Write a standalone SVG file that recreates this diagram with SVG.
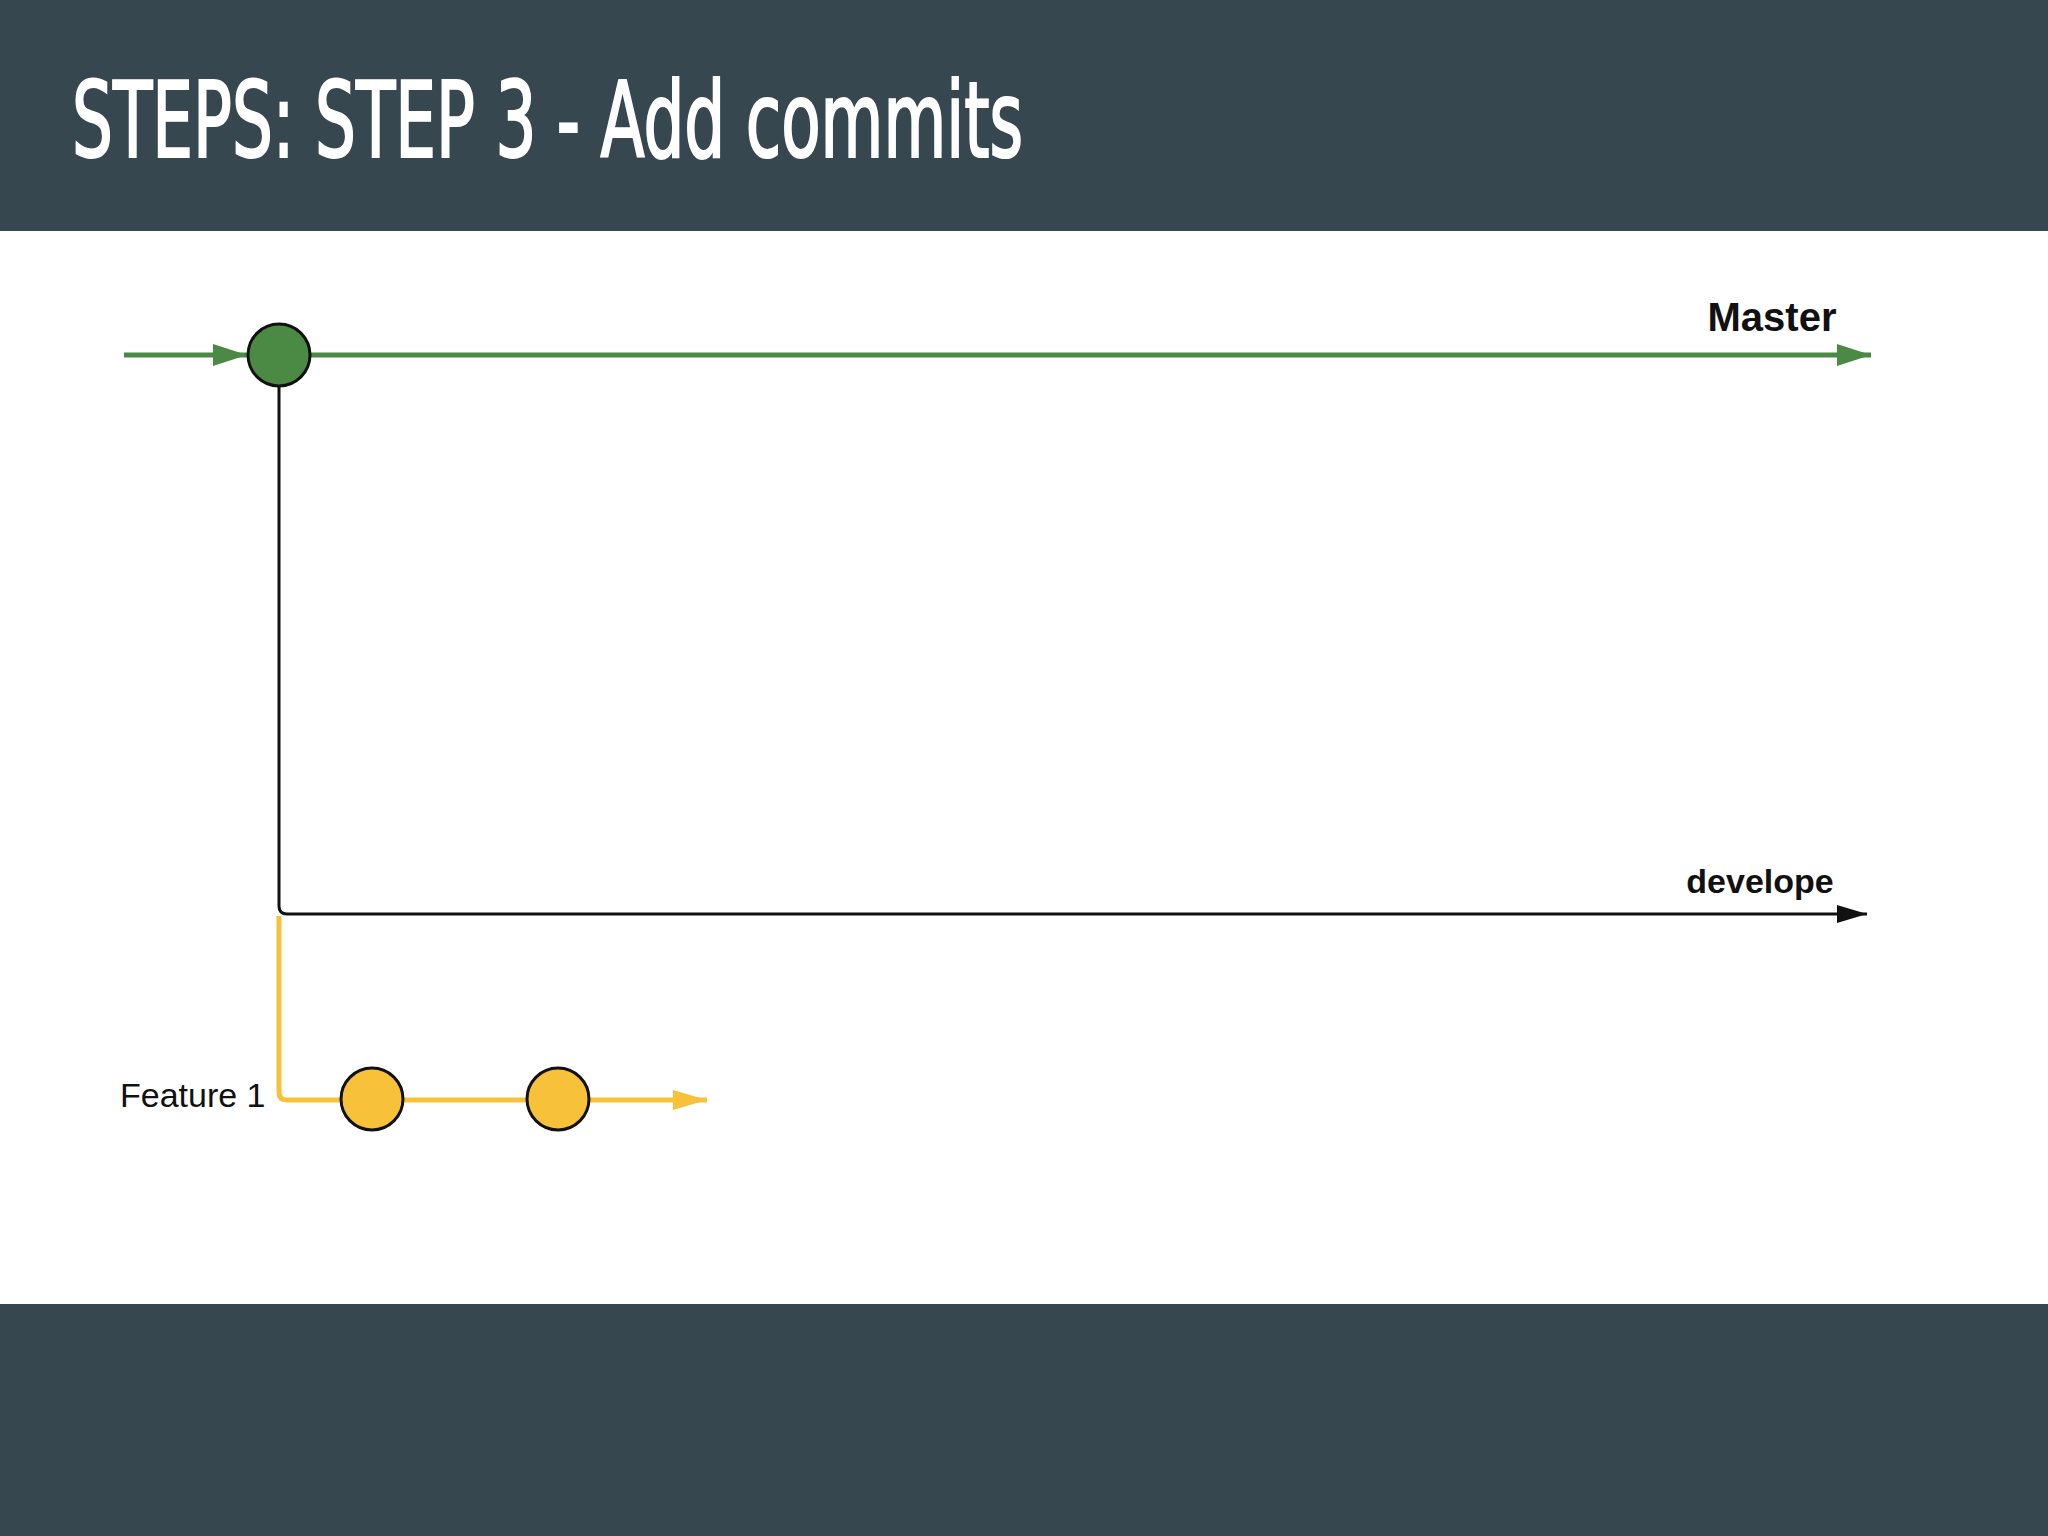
<svg xmlns="http://www.w3.org/2000/svg" width="2048" height="1536" viewBox="0 0 2048 1536">
  <style>
    .band { fill: #37474f; }
    .title { font-family: "Liberation Sans Narrow", "DejaVu Sans Condensed", "Liberation Sans", sans-serif; font-size: 106px; fill: #ffffff; stroke: #ffffff; stroke-width: 2.2; }
    .lbl { font-family: "Liberation Sans", Arial, sans-serif; fill: #111111; }
    .bold { font-weight: bold; }
    .green { stroke: #4a8a45; stroke-width: 5; fill: none; }
    .black { stroke: #111111; stroke-width: 3; fill: none; }
    .yellow { stroke: #f7c13a; stroke-width: 5; fill: none; }
    .commit { stroke: #111111; stroke-width: 3; }
  </style>
  <defs>
    <marker id="arrG" viewBox="0 0 34 22" refX="34" refY="11" markerWidth="34" markerHeight="22" markerUnits="userSpaceOnUse" orient="auto">
      <path d="M0,0 L34,11 L0,22 Z" fill="#4a8a45"/>
    </marker>
    <marker id="arrK" viewBox="0 0 30 18" refX="30" refY="9" markerWidth="30" markerHeight="18" markerUnits="userSpaceOnUse" orient="auto">
      <path d="M0,0 L30,9 L0,18 Z" fill="#111111"/>
    </marker>
    <marker id="arrY" viewBox="0 0 34 20" refX="34" refY="10" markerWidth="34" markerHeight="20" markerUnits="userSpaceOnUse" orient="auto">
      <path d="M0,0 L34,10 L0,20 Z" fill="#f7c13a"/>
    </marker>
  </defs>

  <rect width="2048" height="1536" fill="#ffffff"/>
  <rect class="band" x="0" y="0" width="2048" height="231"/>
  <rect class="band" x="0" y="1304" width="2048" height="232"/>
  <text class="title" x="72" y="157" textLength="951" lengthAdjust="spacingAndGlyphs">STEPS: STEP 3 - Add commits</text>

  <g id="connectors">
    <line class="green" x1="124" y1="355" x2="247" y2="355" marker-end="url(#arrG)"/>
    <line class="green" x1="311" y1="355" x2="1871" y2="355" marker-end="url(#arrG)"/>
    <path class="black" d="M279,386 L279,906 Q279,914 287,914 L1867,914" marker-end="url(#arrK)"/>
    <path class="yellow" d="M279,916 L279,1092 Q279,1100 287,1100 L341,1100"/>
    <line class="yellow" x1="404" y1="1100" x2="527" y2="1100"/>
    <line class="yellow" x1="590" y1="1100" x2="707" y2="1100" marker-end="url(#arrY)"/>
  </g>

  <g id="master-commit">
    <circle class="commit" cx="279" cy="355" r="31" fill="#4a8a45"/>
  </g>
  <g id="feature-commit-1">
    <circle class="commit" cx="372" cy="1099" r="31" fill="#f7c13a"/>
  </g>
  <g id="feature-commit-2">
    <circle class="commit" cx="558" cy="1099" r="31" fill="#f7c13a"/>
  </g>

  <g id="label-master">
    <text class="lbl bold" x="1772" y="331" font-size="40" text-anchor="middle">Master</text>
  </g>
  <g id="label-develope">
    <text class="lbl bold" x="1760" y="893" font-size="34" text-anchor="middle">develope</text>
  </g>
  <g id="label-feature">
    <text class="lbl" x="120" y="1107" font-size="34">Feature 1</text>
  </g>
</svg>
